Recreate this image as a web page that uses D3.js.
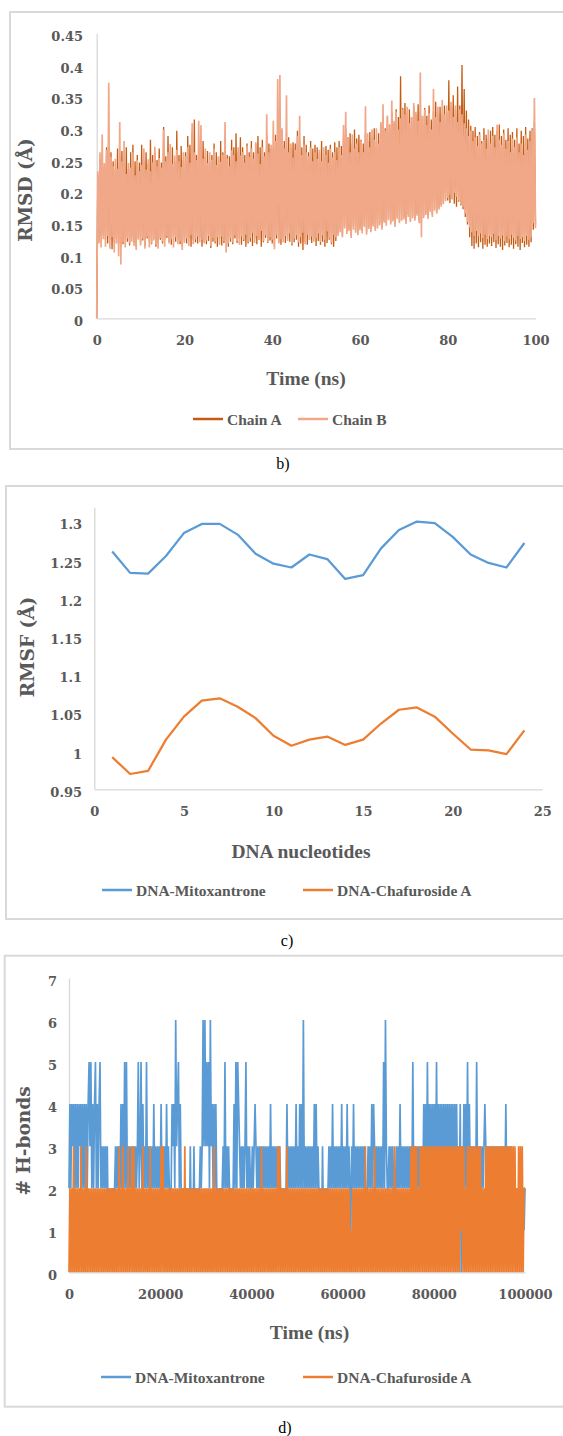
<!DOCTYPE html>
<meta charset="utf-8">
<title>RMSD, RMSF and H-bonds</title>
<style>
body { margin:0; background:#fff; }
svg text { fill:#595959; }
.axis path { stroke:#d9d9d9; stroke-width:1.3px; }
.axis text { font-family:"DejaVu Serif", "Liberation Serif", serif; font-weight:bold; font-size:13px; fill:#595959; }
.xtitle { font-family:"Liberation Serif", serif; font-weight:bold; font-size:19.5px; text-anchor:middle; }
.ytitle { font-family:"DejaVu Serif", serif; font-weight:bold; font-size:18.5px; text-anchor:middle; }
.legend text { font-family:"Liberation Serif", serif; font-weight:bold; font-size:15.5px; }
.caption { font-family:"Liberation Serif", serif; font-size:16px; text-anchor:middle; }
svg text.caption { fill:#000; }
</style>
<svg width="563" height="1436"></svg>
<script src="https://d3js.org/d3.v7.min.js"></script>
<script>

// ---- b) RMSD, one value every 0.25 ns (thousandths of an angstrom) ----
var rmsdStep = 0.25;
var rmsdChainA = [
  0,226,121,250,128,258,131,238,124,270,118,246,125,262,109,248,120,236,126,268,
  118,256,112,264,117,242,124,270,121,236,115,262,128,274,119,248,113,258,126,246,
  119,274,123,248,114,262,126,244,121,282,117,258,125,262,113,250,119,268,124,246,
  118,302,124,256,127,288,120,262,116,270,129,248,121,296,125,258,117,272,112,250,
  122,262,118,288,126,274,113,292,124,314,120,258,118,270,127,262,113,280,121,256,
  117,264,122,248,111,258,121,276,118,262,113,254,126,280,115,262,119,270,124,258,
  113,256,121,282,117,270,126,292,119,262,127,286,116,270,122,258,113,276,118,262,
  121,280,114,262,126,276,117,288,124,270,113,282,120,262,127,290,119,276,123,268,
  118,270,114,290,126,284,120,272,116,296,125,280,119,268,127,286,121,270,115,278,
  120,276,124,296,113,280,118,270,108,288,121,274,116,262,124,280,119,268,126,274,
  114,270,122,262,116,280,121,258,113,272,119,266,124,274,117,262,113,278,122,270,
  134,280,140,272,131,290,146,300,137,286,141,292,130,276,144,298,138,284,134,290,
  143,282,138,276,147,290,136,280,144,294,140,286,148,300,141,280,146,292,150,306,
  144,316,154,300,150,318,158,306,151,326,156,308,148,330,160,318,153,382,157,332,
  159,340,153,324,163,330,155,318,161,336,157,322,165,338,154,326,150,318,161,332,
  166,320,160,336,171,314,163,326,173,342,168,324,175,334,179,322,183,336,188,326,
  186,376,182,334,188,352,181,330,176,366,184,336,178,400,172,362,160,328,148,314,
  128,304,114,296,110,302,118,288,112,294,120,280,110,300,116,290,113,284,118,296,
  114,302,120,290,111,296,117,306,113,288,108,298,115,282,119,300,112,290,116,294,
  110,282,117,300,113,276,108,296,119,288,112,302,116,284,113,296,120,300,140,310,
  148];
var rmsdChainB = [
  0,232,118,262,112,290,125,245,113,266,130,372,110,255,128,240,104,252,118,236,
  98,310,85,248,120,280,112,228,126,245,118,238,121,262,114,226,108,250,124,232,
  115,242,126,268,110,235,129,251,112,232,118,246,123,271,116,240,110,253,127,238,
  121,298,113,248,130,262,118,275,125,244,112,257,128,266,117,248,122,239,108,262,
  119,256,126,270,114,246,131,308,117,262,125,250,129,312,120,305,124,252,118,268,
  123,245,130,262,114,250,127,268,121,242,128,256,116,247,129,258,122,310,104,252,
  118,240,126,265,120,258,131,248,122,270,116,257,129,262,124,246,132,272,121,255,
  127,268,135,252,119,278,130,260,125,244,138,270,122,256,131,322,120,262,128,274,
  124,312,109,280,132,378,118,384,125,300,120,268,130,352,122,262,134,276,118,254,
  126,266,131,288,120,320,128,258,135,274,117,262,132,256,124,270,129,248,121,262,
  127,252,134,266,120,248,131,270,124,258,137,246,126,268,119,254,132,262,128,250,
  130,270,136,258,128,305,142,326,133,285,138,262,127,290,140,268,135,276,131,262,
  139,280,134,262,144,335,132,292,141,270,136,298,145,282,138,300,142,276,147,310,
  140,338,151,296,146,320,155,305,148,344,153,312,144,326,157,298,150,316,154,330,
  156,322,149,334,160,308,152,318,158,340,154,326,162,312,150,388,128,320,158,330,
  163,305,157,324,168,298,160,362,170,318,165,334,172,310,176,345,180,322,185,336,
  190,328,195,342,188,318,198,336,192,310,186,330,180,322,176,308,165,300,152,288,
  143,296,136,280,130,286,138,272,129,290,134,276,127,282,132,268,125,298,130,276,
  128,288,133,270,124,306,130,282,126,274,131,292,122,268,129,280,125,262,132,284,
  127,270,123,286,130,262,125,276,128,258,122,290,130,266,124,280,128,298,150,348,
  142];
var rmsdYTicks = [0,0.05,0.1,0.15,0.2,0.25,0.3,0.35,0.4,0.45];
var rmsdXTicks = [0,20,40,60,80,100];

// ---- c) RMSF per nucleotide ----
var nucleotides = [1,2,3,4,5,6,7,8,9,10,11,12,13,14,15,16,17,18,19,20,21,22,23,24];
var rmsfMitoxantrone = [1.261,1.233,1.232,1.255,1.285,1.297,1.297,1.283,1.258,1.245,1.240,1.257,
                        1.251,1.225,1.230,1.265,1.289,1.300,1.298,1.280,1.257,1.246,1.240,1.272];
var rmsfChafuroside = [0.992,0.970,0.974,1.015,1.045,1.066,1.069,1.058,1.043,1.020,1.007,1.015,
                       1.019,1.008,1.015,1.036,1.054,1.057,1.045,1.023,1.002,1.001,0.996,1.027];
var rmsfYTicks = [0.95,1,1.05,1.1,1.15,1.2,1.25,1.3];
var rmsfXTicks = [0,5,10,15,20,25];

// ---- d) number of H-bonds, one frame every 200 ns ----
var hbondStep = 200;
var hbondMitoxantrone = (
  "2424342424 2434242424 2453524245 2424523232 3231212121 " +
  "2323232424 2525232323 2323235235 2423252323 2324232323 " +
  "2423232423 2124342634 5242121212 1213121312 1212323636 " +
  "3535263424 2421212123 2523232121 2425254323 2323523232 " +
  "2323432323 2323232323 2423232323 2321212124 2323232324 " +
  "2324242623 2323232324 2423212131 2121232324 2323232324 " +
  "2323242321 3242323232 3232321232 3242432323 2323252632 " +
  "2323232123 2324232323 2323232523 2323232324 2425242424 " +
  "2425242424 2424242424 2424242324 0324242524 2323232523 " +
  "2323234323 2323232323 2323232324 2323232121 2121212121 2");
var hbondChafuroside = (
  "0202030202 0203020203 0202020202 0202020202 0202020202 " +
  "0202030203 0202030203 0302020202 0302020203 0202020202 " +
  "0303020202 0202020202 0202020302 0202020202 0202020202 " +
  "0202020203 0202020202 0202020202 0202020202 0202020202 " +
  "0202020202 0302020202 0202020203 0302020203 0202020202 " +
  "0202020202 0202020202 0202020202 0202020202 0202020202 " +
  "0202020201 0202020202 0202030202 0202030202 0202020202 " +
  "0202020302 0202020202 0202030303 0302030303 0303030303 " +
  "0303030303 0303030303 0303030303 1303020303 0303030303 " +
  "0302020303 0303030303 0303030303 0303030303 0203030302 2");
var hbondYTicks = [0,1,2,3,4,5,6,7];
var hbondXTicks = [0,20000,40000,60000,80000,100000];

var blue = "#5b9bd5", orange = "#ed7d31", chainA = "#c55a11", chainB = "#f1a888";

var svg = d3.select("svg");

function frame(x, y, w, h) {
  svg.append("rect").attr("x", x).attr("y", y).attr("width", w).attr("height", h)
     .style("fill", "none").style("stroke", "#d9d9d9").style("stroke-width", 2);
}

function axes(x, y, xticks, yticks, ypad, fmt) {
  svg.append("g").attr("class", "axis")
     .attr("transform", "translate(0," + y.range()[0] + ")")
     .call(d3.axisBottom(x).tickValues(xticks).tickSize(0).tickPadding(17).tickFormat(d3.format("d")));
  svg.append("g").attr("class", "axis")
     .attr("transform", "translate(" + x.range()[0] + ",0)")
     .call(d3.axisLeft(y).tickValues(yticks).tickSize(0).tickPadding(ypad).tickFormat(fmt))
     .selectAll("text").attr("dy", "0.55em");
  svg.selectAll(".axis .tick line").remove();
}

function titles(xt, xx, xy, yt, yx, yy) {
  svg.append("text").attr("class", "xtitle").attr("x", xx).attr("y", xy)
     .attr("dominant-baseline", "central").text(xt);
  svg.append("text").attr("class", "ytitle")
     .attr("transform", "translate(" + yx + "," + yy + ") rotate(-90)")
     .attr("dominant-baseline", "central").text(yt);
}

function legend(y, items) {
  var g = svg.append("g").attr("class", "legend");
  items.forEach(function(d) {
    g.append("line").attr("x1", d.x).attr("x2", d.x + 30).attr("y1", y).attr("y2", y)
     .style("stroke", d.color).style("stroke-width", 2.5);
    g.append("text").attr("x", d.x + 34).attr("y", y).attr("dominant-baseline", "central").text(d.label);
  });
}

function caption(t, x, y) {
  svg.append("text").attr("class", "caption").attr("x", x).attr("y", y)
     .attr("dominant-baseline", "central").text(t);
}

var trim = function(d) { return String(+d.toFixed(2)); };

// ================= b) RMSD =================
frame(10, 12, 570, 437);
var x1 = d3.scaleLinear().domain([0, 100]).range([96.7, 535.5]);
var y1 = d3.scaleLinear().domain([0, 0.45]).range([318.3, 33.3]);
axes(x1, y1, rmsdXTicks, rmsdYTicks, 13.7, trim);

var lineRmsd = d3.line()
    .x(function(d, i) { return x1(i * rmsdStep); })
    .y(function(d) { return y1(d / 1000); });

[[rmsdChainA, chainA, 1.3], [rmsdChainB, chainB, 1.7]].forEach(function(s) {
  svg.append("path").datum(s[0]).attr("d", lineRmsd)
     .style("fill", "none").style("stroke", s[1]).style("stroke-width", s[2])
     .style("stroke-linejoin", "bevel");
});
titles("Time (ns)", 306, 378, "RMSD (Å)", 25, 190);
legend(419, [{label: "Chain A", color: chainA, x: 193}, {label: "Chain B", color: chainB, x: 298}]);
caption("b)", 283, 463);

// ================= c) RMSF =================
frame(6, 486, 570, 433);
var x2 = d3.scaleLinear().domain([0, 25]).range([94.3, 542.3]);
var y2 = d3.scaleLinear().domain([0.95, 1.3187]).range([789.3, 507.3]);
axes(x2, y2, rmsfXTicks, rmsfYTicks, 12.3, trim);

var lineRmsf = function(vals) {
  return d3.line()
    .x(function(d, i) { return x2(nucleotides[i]); })
    .y(function(d) { return y2(d); })(vals);
};
[[rmsfMitoxantrone, blue], [rmsfChafuroside, orange]].forEach(function(s) {
  svg.append("path").attr("d", lineRmsf(s[0]))
     .style("fill", "none").style("stroke", s[1]).style("stroke-width", 2.25)
     .style("stroke-linejoin", "round");
});
titles("DNA nucleotides", 301, 851, "RMSF (Å)", 27, 647);
legend(890, [{label: "DNA-Mitoxantrone", color: blue, x: 102}, {label: "DNA-Chafuroside A", color: orange, x: 303}]);
caption("c)", 287, 940);

// ================= d) H-bonds =================
frame(4.7, 955.7, 570, 451);
var x3 = d3.scaleLinear().domain([0, 100000]).range([69, 525]);
var y3 = d3.scaleLinear().domain([0, 7]).range([1272.3, 978]);
axes(x3, y3, hbondXTicks, hbondYTicks, 12, d3.format("d"));

var lineHb = d3.line()
    .x(function(d, i) { return x3(i * hbondStep); })
    .y(function(d) { return y3(d); });

[[hbondMitoxantrone, blue], [hbondChafuroside, orange]].forEach(function(s) {
  var vals = s[0].replace(/\s/g, "").split("").map(Number);
  svg.append("path").datum(vals).attr("d", lineHb)
     .style("fill", "none").style("stroke", s[1]).style("stroke-width", 1.7)
     .style("stroke-linejoin", "bevel");
});
titles("Time (ns)", 309.5, 1332, "# H-bonds", 23, 1141);
legend(1377, [{label: "DNA-Mitoxantrone", color: blue, x: 101}, {label: "DNA-Chafuroside A", color: orange, x: 303}]);
caption("d)", 285, 1427);

</script>
